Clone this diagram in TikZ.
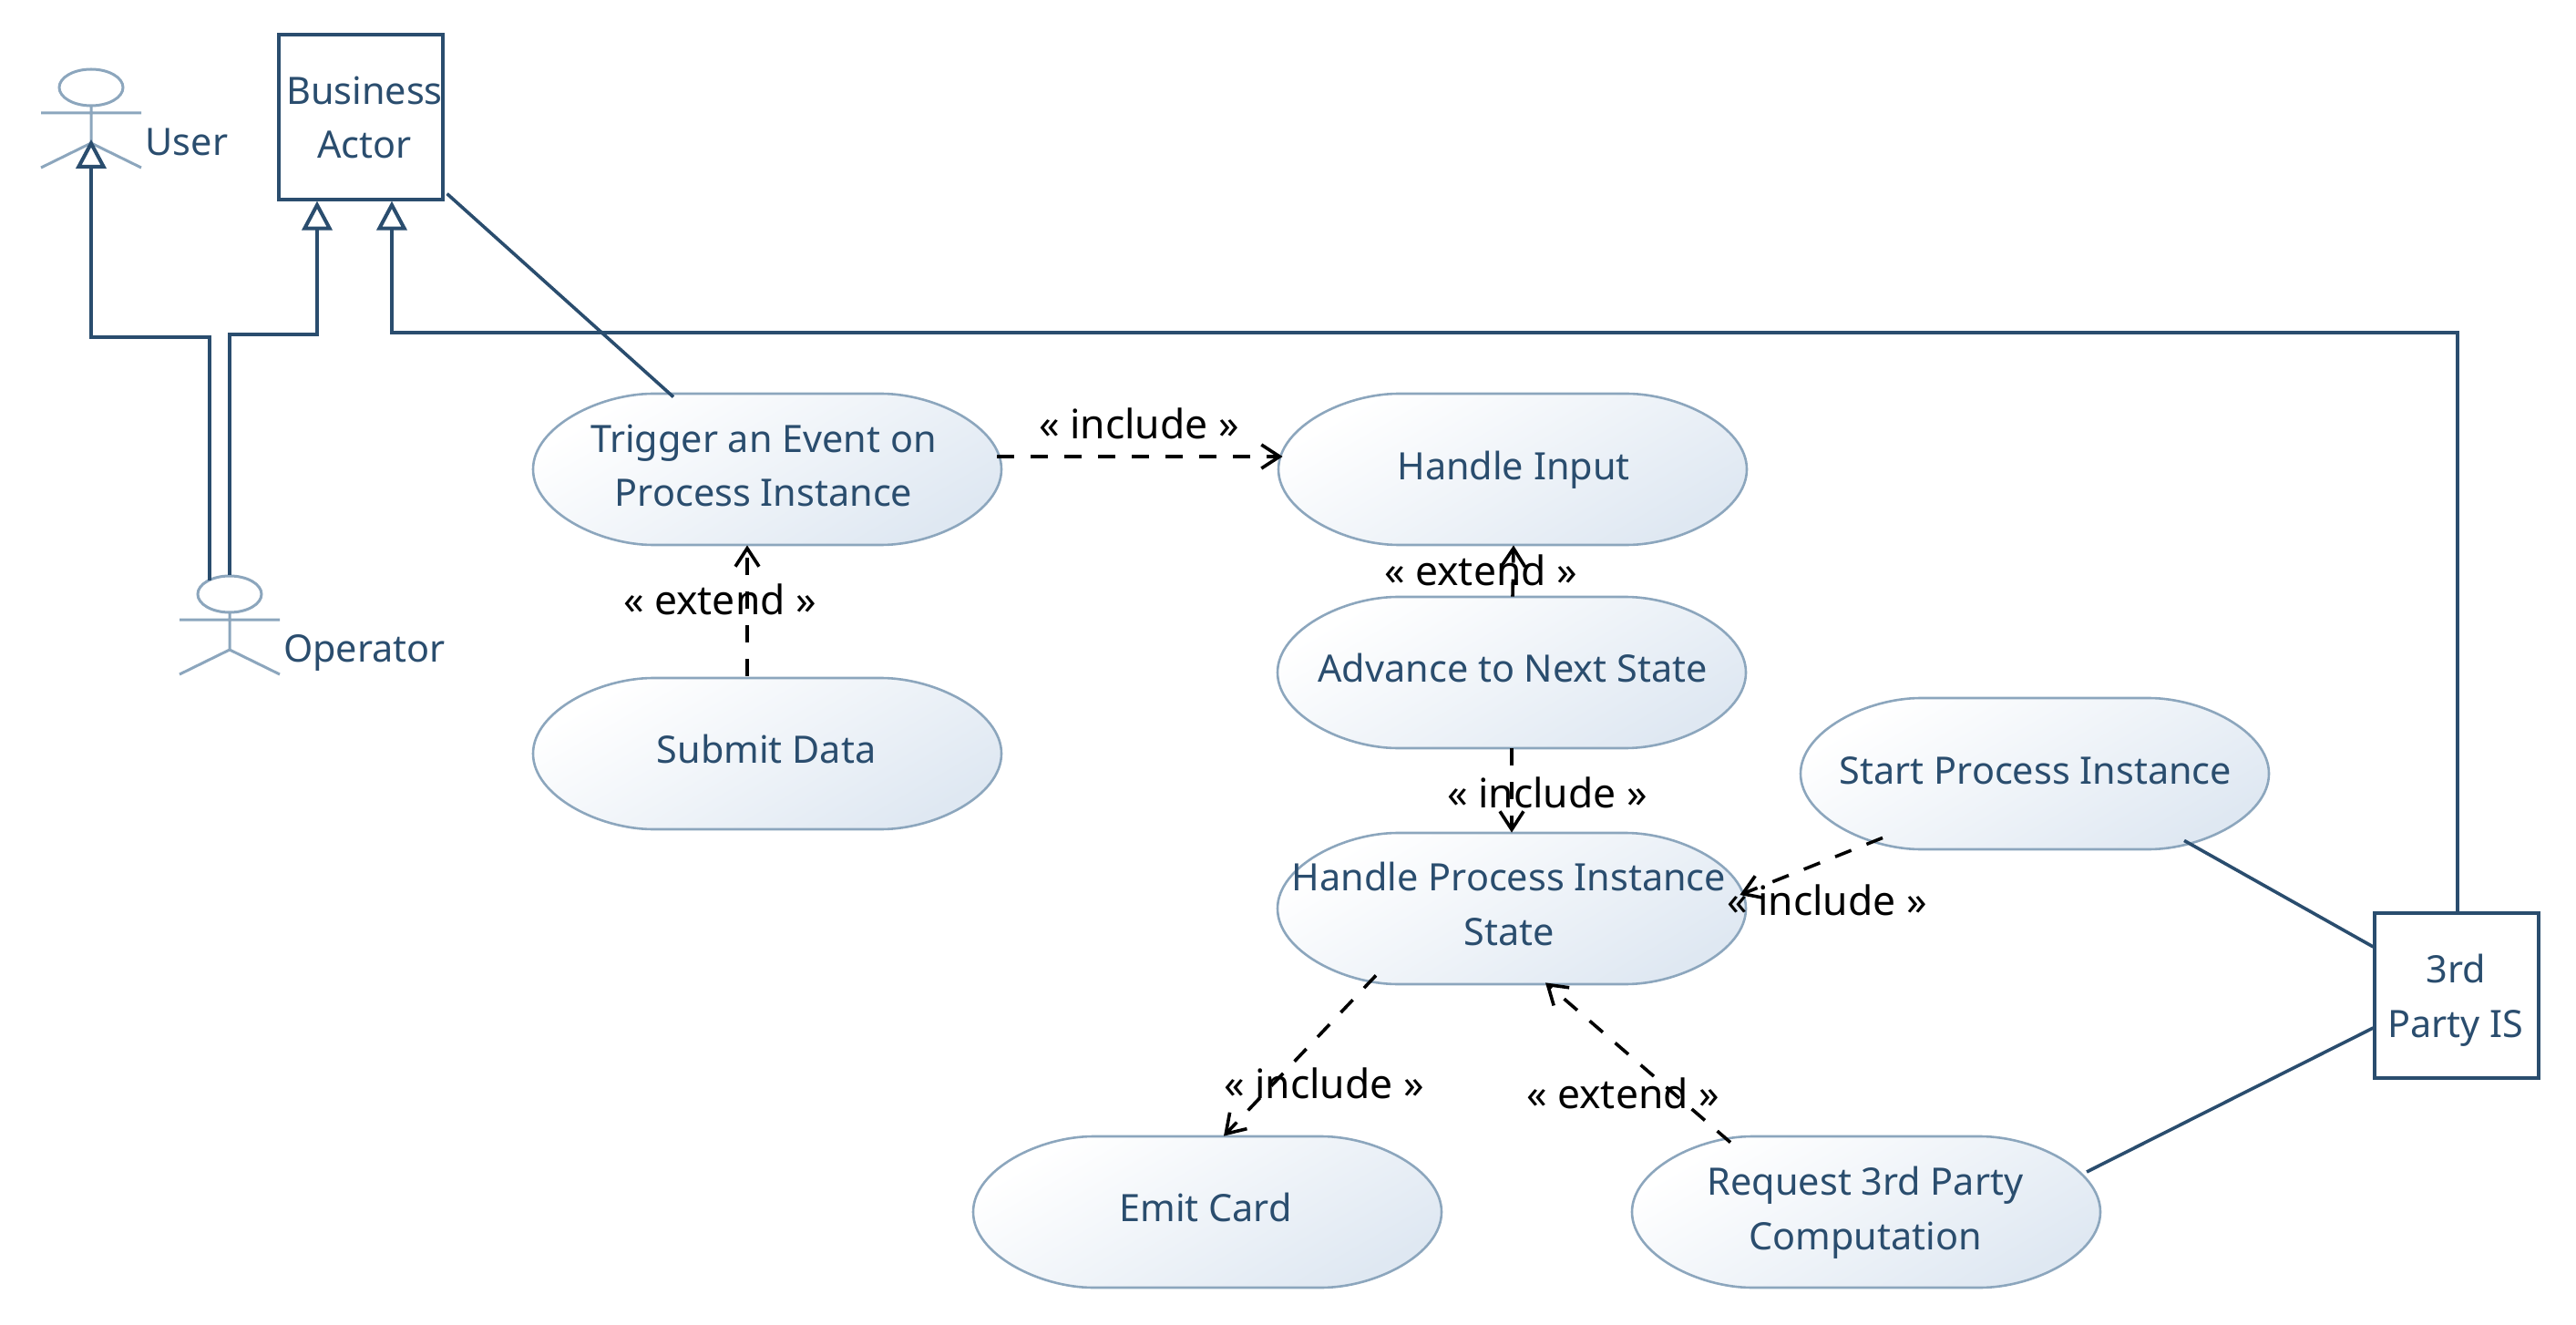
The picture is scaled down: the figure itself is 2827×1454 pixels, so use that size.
\documentclass[tikz,border=0pt]{standalone}
\usepackage{fontspec}
\setmainfont{Noto Sans}
\usetikzlibrary{arrows.meta}
\definecolor{umlblue}{HTML}{2A4D6E}
\definecolor{ucedge}{HTML}{8CA6BD}
\definecolor{ucshade}{HTML}{DFE8F2}
\tikzset{
	umltext/.style={text=umlblue,font=\fontsize{20.7}{29.75}\selectfont,align=center,anchor=base,inner sep=0pt},
	steplabel/.style={text=black,font=\fontsize{22.2}{24}\selectfont,anchor=base,inner sep=0pt},
	ucbox/.style={minimum width=257pt,minimum height=83pt,inner sep=0pt},
	classbox/.style={draw=umlblue,line width=1.6pt,inner sep=0pt},
	actorbox/.style={minimum width=55pt,minimum height=55pt,inner sep=0pt},
	assoc/.style={draw=umlblue,line width=1.8pt},
	gen/.style={draw=umlblue,line width=2pt,-{Triangle[open,fill=white,length=16pt,width=16.5pt]}},
	dep/.style={draw=black,line width=1.8pt,dash pattern=on 9.5pt off 9pt,-{Straight Barb[length=10pt,width=13pt]}}
}
\newcommand{\usecase}[3]{
	\path [draw=ucedge,line width=1.3pt,top color=white,middle color=ucshade!80,bottom color=ucshade,shading angle=30,shift={(#2,#3)}]
	(-257,0) .. controls (-257,-46) and (-185,-83) .. (-125,-83) -- (125,-83)
	.. controls (185,-83) and (257,-46) .. (257,0)
	.. controls (257,46) and (185,83) .. (125,83) -- (-125,83)
	.. controls (-185,83) and (-257,46) .. (-257,0) -- cycle;
	\node [ucbox] (#1) at (#2,#3) {};
}
\newcommand{\actor}[3]{
	\draw [ucedge,line width=1.5pt,shift={(#2,#3)}] (0,-34) ellipse (35 and 20)
	(-55,-6) -- (55,-6) (0,-14) -- (0,27) (-55,54) -- (0,27) -- (55,54);
	\node [actorbox] (#1) at (#2,#3) {};
}

\begin{document}
\begin{tikzpicture}[x=0.5pt,y=-0.5pt]
	\useasboundingbox (0,0) rectangle (2827,1454);
	% use cases
	\usecase{trigger}{842}{515}
	\usecase{submit}{842}{827}
	\usecase{input}{1660}{515}
	\usecase{advance}{1659}{738}
	\usecase{state}{1659}{997}
	\usecase{start}{2233}{849}
	\usecase{emit}{1325}{1330}
	\usecase{request}{2048}{1330}
	\node [umltext] (triggertext) at (838,556) {Trigger an Event on\\Process Instance};
	\node [umltext] (submittext) at (841,837) {Submit Data};
	\node [umltext] (inputtext) at (1661,527) {Handle Input};
	\node [umltext] (advancetext) at (1660,748) {Advance to Next State};
	\node [umltext] (statetext) at (1656,1037) {Handle Process Instance\\State};
	\node [umltext] (starttext) at (2234,860) {Start Process Instance};
	\node [umltext] (emittext) at (1323,1340) {Emit Card};
	\node [umltext] (requesttext) at (2047,1371) {Request 3rd Party\\Computation};
	% actors
	\actor{user}{100}{130}
	\actor{operator}{252}{686}
	\node [umltext] (usertext) at (205,171) {User};
	\node [umltext] (operatortext) at (400,726) {Operator};
	\node [classbox,minimum width=90pt,minimum height=90.5pt] (business) at (396,128.5) {};
	\node [umltext] (businesstext) at (400,174) {Business\\Actor};
	\node [classbox,minimum width=90pt,minimum height=90.5pt] (party) at (2696,1092.5) {};
	\node [umltext] (partytext) at (2695,1138) {3rd\\Party IS};
	% generalisations
	\draw [gen] ([shift={(-22,-49)}]operator.center) -- ++(0,-267) -| ([shift={(0,23)}]user.center);
	\draw [gen] ([shift={(0,-55)}]operator.center) -- ++(0,-264) -| ([shift={(-48,0)}]business.south);
	\draw [gen] ([shift={(1,0)}]party.north) -- ++(0,-635) -| ([shift={(34,0)}]business.south);
	% associations
	\draw [assoc] ([shift={(3,-8)}]business.south east) -- ([shift={(-103,4)}]trigger.north);
	\draw [assoc] ([shift={(164,-10)}]start.south) -- ([shift={(0,-53.5)}]party.west);
	\draw [assoc] ([shift={(242,-44)}]request.center) -- ([shift={(0,35.5)}]party.west);
	% dependencies
	\draw [dep] ([shift={(-5,-14)}]trigger.east) -- ([shift={(5,-14)}]input.west);
	\draw [dep] ([shift={(-22,-2)}]submit.north) -- ([shift={(-22,0)}]trigger.south);
	\draw [dep] ([shift={(1,0)}]advance.north) -- ([shift={(1,0)}]input.south);
	\draw [dep] (advance.south) -- (state.north);
	\draw [dep] ([shift={(-167,-13)}]start.south) -- ([shift={(-7,-15)}]state.east);
	\draw [dep] ([shift={(-149,-10)}]state.south) -- ([shift={(18,0)}]emit.north);
	\draw [dep] ([shift={(-149,7)}]request.north) -- ([shift={(37,-2)}]state.south);
	\node [steplabel] (l1) at (1250,482) {« include »};
	\node [steplabel] (l2) at (790,675) {« extend »};
	\node [steplabel] (l3) at (1625,642) {« extend »};
	\node [steplabel] (l4) at (1698,886) {« include »};
	\node [steplabel] (l5) at (2005,1004) {« include »};
	\node [steplabel] (l6) at (1453,1205) {« include »};
	\node [steplabel] (l7) at (1781,1216) {« extend »};
\end{tikzpicture}
\end{document}
